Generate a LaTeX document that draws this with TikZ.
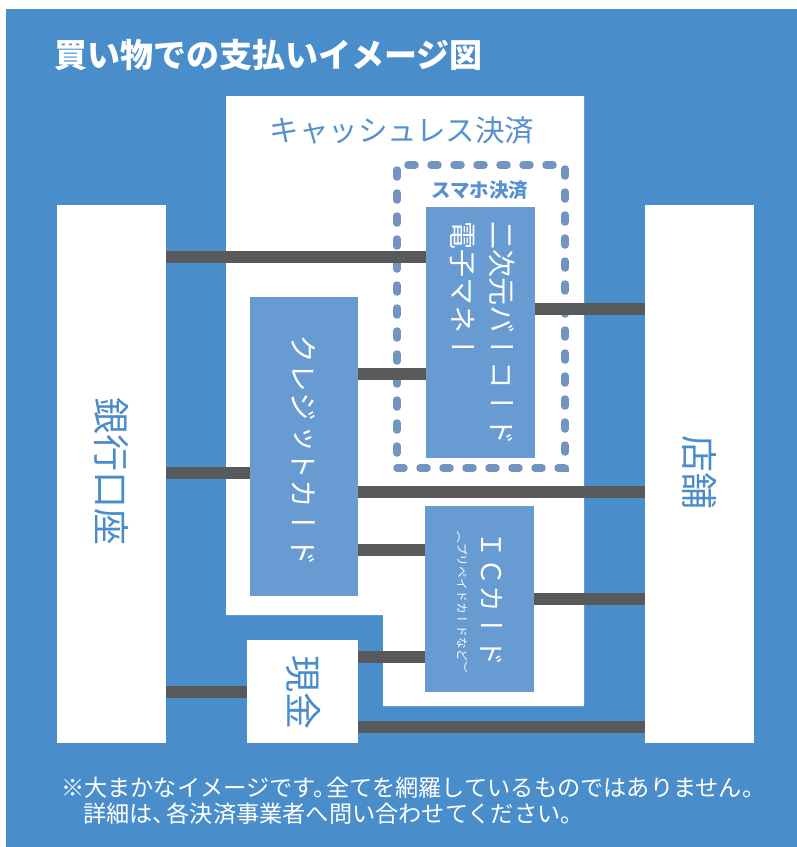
\documentclass[tikz,border=0pt]{standalone}
\usepackage{fontspec}
\newfontfamily\jp{Noto Sans CJK JP}
\newfontfamily\tate[Vertical=RotatedGlyphs]{Noto Sans CJK JP}
\definecolor{bgblue}{RGB}{73,142,203}
\definecolor{boxblue}{RGB}{103,155,210}
\definecolor{txtblue}{RGB}{86,145,206}
\definecolor{darktxt}{RGB}{74,140,202}
\definecolor{dashcol}{RGB}{113,148,192}
\definecolor{linecol}{RGB}{88,89,91}
\begin{document}
\begin{tikzpicture}[x=1pt,y=-1pt,
  whitebox/.style={fill=white, draw=none, inner sep=0},
  bluebox/.style={fill=boxblue, draw=none, inner sep=0},
  conn/.style={draw=linecol, line width=12pt},
  dashbox/.style={draw=dashcol, line width=7.5pt, line cap=round, dash pattern=on 7pt off 16pt, inner sep=0},
  vt/.style={rotate=-90, inner sep=0},
  fs/.style={font=\jp\fontsize{#1}{#1}\selectfont},
  bfs/.style={font=\jp\bfseries\fontsize{#1}{#1}\selectfont},
  vfs/.style={font=\tate\fontsize{#1}{#1}\selectfont}]
\useasboundingbox (0,0) rectangle (797,847);
\fill[white] (0,0) rectangle (797,847);
\fill[bgblue] (6,9) rectangle (797,847);
% title
\node[anchor=west, inner sep=0, text=white, bfs=33] (title) at (54,55) {買い物での支払いイメージ図};
% cashless area
\fill[white] (226,96) -- (584,96) -- (584,706) -- (383,706) -- (383,615) -- (226,615) -- cycle;
\node[inner sep=0, text=txtblue, fs=29.5] (cashless) at (402,130) {キャッシュレス決済};
% smartphone payment dashed frame
\node[dashbox, minimum width=168pt, minimum height=303pt] (smart) at (481,316.5) {};
\node[inner sep=0, text=txtblue, bfs=19.5] (smartlbl) at (480,190) {スマホ決済};
% boxes
\node[whitebox, minimum width=109pt, minimum height=538pt] (bank) at (111.5,474) {};
\node[whitebox, minimum width=109pt, minimum height=538pt] (store) at (699.5,474) {};
\node[bluebox, minimum width=108pt, minimum height=299pt] (credit) at (304,446.5) {};
\node[bluebox, minimum width=109pt, minimum height=251pt] (emoney) at (480.5,332.5) {};
\node[bluebox, minimum width=109pt, minimum height=186pt] (ic) at (479.5,599) {};
\node[whitebox, minimum width=111pt, minimum height=103pt] (cash) at (302.5,691.5) {};
% labels
\node[vt, text=darktxt, vfs=37] (banklbl) at (111.5,471) {銀行口座};
\node[vt, text=darktxt, vfs=37] (storelbl) at (699.5,472) {店舗};
\node[vt, text=darktxt, vfs=37] (cashlbl) at (303,692) {現金};
\node[vt, text=white, vfs=29] (creditlbl) at (304,450) {クレジットカード};
\node[vt, text=white, vfs=28, anchor=west] (qrlbl) at (502,221) {二次元バーコード};
\node[vt, text=white, vfs=28, anchor=west] (emlbl) at (462,221) {電子マネー};
\node[vt, text=white, vfs=27, anchor=west] (iclbl) at (492,531) {ＩＣカード};
\node[vt, text=white, vfs=11.8, anchor=west] (icsub) at (462,531) {（プリペイドカードなど）};
% connector levels
\coordinate (y1) at (0,257);
\coordinate (y2) at (0,309);
\coordinate (y3) at (0,374);
\coordinate (y4) at (0,473);
\coordinate (y5) at (0,492);
\coordinate (y6) at (0,550);
\coordinate (y7) at (0,599);
\coordinate (y8) at (0,657);
\coordinate (y9) at (0,692);
\coordinate (y10) at (0,727);
\draw[conn] (bank.east |- y1) -- (emoney.west |- y1);
\draw[conn] (emoney.east |- y2) -- (store.west |- y2);
\draw[conn] (credit.east |- y3) -- (emoney.west |- y3);
\draw[conn] (bank.east |- y4) -- (credit.west |- y4);
\draw[conn] (credit.east |- y5) -- (store.west |- y5);
\draw[conn] (credit.east |- y6) -- (ic.west |- y6);
\draw[conn] (ic.east |- y7) -- (store.west |- y7);
\draw[conn] (cash.east |- y8) -- (ic.west |- y8);
\draw[conn] (bank.east |- y9) -- (cash.west |- y9);
\draw[conn] (cash.east |- y10) -- (store.west |- y10);
% notes
\node[anchor=west, inner sep=0, text=white, fs=23.2] (note1) at (61,788) {※大まかなイメージです。\kern-0.45em 全てを網羅しているものではありません。};
\node[anchor=west, inner sep=0, text=white, fs=23.2] (note2) at (83,814) {詳細は、\kern-0.4em 各決済事業者へ問い合わせてください。};
\end{tikzpicture}
\end{document}
